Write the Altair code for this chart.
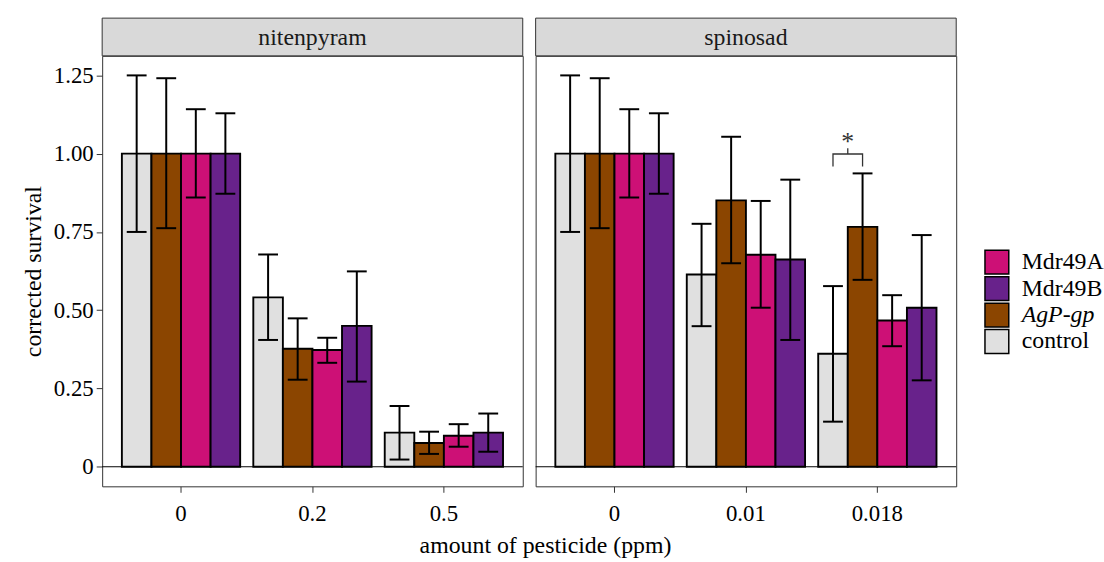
import altair as alt
import pandas as pd

FONT = "Liberation Serif"

panels = ["nitenpyram", "spinosad"]
nit_doses = ["0", "0.2", "0.5"]
spi_doses = ["0", "0.01", "0.018"]
groups = ["control", "AgP-gp", "Mdr49A", "Mdr49B"]
legend_order = ["Mdr49A", "Mdr49B", "AgP-gp", "control"]
colors = ["#e0e0e0", "#8b4500", "#cd1076", "#68228b"]

# values ordered dose by dose, groups in `groups` order
nit_mean = [1.0, 1.0, 1.0, 1.0, 0.541, 0.377, 0.373, 0.450, 0.109, 0.076, 0.099, 0.109]
nit_lo = [0.750, 0.762, 0.860, 0.872, 0.405, 0.278, 0.332, 0.272, 0.023, 0.041, 0.064, 0.048]
nit_hi = [1.250, 1.241, 1.142, 1.129, 0.678, 0.474, 0.412, 0.624, 0.194, 0.112, 0.136, 0.170]

spi_mean = [1.0, 1.0, 1.0, 1.0, 0.614, 0.851, 0.677, 0.662, 0.361, 0.766, 0.467, 0.508]
spi_lo = [0.750, 0.762, 0.860, 0.872, 0.449, 0.650, 0.508, 0.405, 0.144, 0.597, 0.385, 0.276]
spi_hi = [1.250, 1.241, 1.142, 1.129, 0.776, 1.054, 0.849, 0.917, 0.577, 0.937, 0.548, 0.740]

y_ticks = [0, 0.25, 0.5, 0.75, 1.0, 1.25]

# significance bracket (spinosad, 0.018)
sig_dose = "0.018"
sig_pair = ["control", "AgP-gp"]
sig_top = 0.999
sig_tip = 0.959
sig_mid_top = 1.017
sig_label = "*"


def long(doses, mean, lo, hi):
    rows = []
    for i, d in enumerate(doses):
        for j, g in enumerate(groups):
            k = i * len(groups) + j
            rows.append(dict(dose=d, group=g, mean=mean[k], lo=lo[k], hi=hi[k]))
    return pd.DataFrame(rows)


color_scale = alt.Scale(domain=groups, range=colors)
y_scale = alt.Scale(domain=[-0.0625, 1.3125], nice=False, zero=False)
W, H = 424, 434
TICK_FS = 23
TITLE_FS = 24


def panel(title, doses, mean, lo, hi, show_y, sig=False):
    df = long(doses, mean, lo, hi)
    xscale = alt.Scale(domain=doses, paddingInner=0.1, paddingOuter=0.15)
    xaxis = alt.Axis(title=None, labelAngle=0, labelFont=FONT, labelFontSize=TICK_FS,
                     labelColor="black", tickColor="#333333", tickSize=6,
                     labelPadding=10, domain=False, grid=False)
    x = alt.X("dose:N", sort=doses, scale=xscale, axis=xaxis)
    xo = alt.XOffset("group:N", sort=groups,
                     scale=alt.Scale(domain=groups, paddingInner=0, paddingOuter=0))
    if show_y:
        yaxis = alt.Axis(title="corrected survival", values=y_ticks,
                         labelExpr="datum.value == 0 ? '0' : format(datum.value, '.2f')",
                         labelFont=FONT, labelFontSize=TICK_FS, labelColor="black",
                         titleFont=FONT, titleFontSize=TITLE_FS, titleFontWeight="normal",
                         titleColor="black", titlePadding=8,
                         tickColor="#333333", tickSize=6, labelPadding=3,
                         domain=False, grid=False)
    else:
        yaxis = None

    base = alt.Chart(df)
    zero = alt.Chart(pd.DataFrame({"z": [0.0]})).mark_rule(color="black", strokeWidth=1).encode(
        y=alt.Y("z:Q", scale=y_scale, axis=yaxis))
    bars = base.mark_bar(stroke="black", strokeWidth=1.9, opacity=1).encode(
        x=x, xOffset=xo,
        y=alt.Y("mean:Q", scale=y_scale, axis=yaxis),
        y2=alt.datum(0),
        fill=alt.Fill("group:N", scale=color_scale, legend=None),
    )
    err = base.mark_rule(color="black", strokeWidth=2).encode(
        x=x, xOffset=xo, y=alt.Y("lo:Q", scale=y_scale, axis=yaxis), y2="hi:Q")
    cap_lo = base.mark_tick(color="black", size=20, thickness=2, opacity=1).encode(
        x=x, xOffset=xo, y=alt.Y("lo:Q", scale=y_scale, axis=yaxis))
    cap_hi = base.mark_tick(color="black", size=20, thickness=2, opacity=1).encode(
        x=x, xOffset=xo, y=alt.Y("hi:Q", scale=y_scale, axis=yaxis))

    sdf = pd.DataFrame({"panel": [title]})
    strip = alt.Chart(sdf).mark_rect(fill="#d9d9d9", stroke="#333333", strokeWidth=1).encode(
        x=alt.value(0), x2=alt.value(W), y=alt.value(-38), y2=alt.value(0))
    strip_text = alt.Chart(sdf).mark_text(font=FONT, fontSize=TITLE_FS, color="#1a1a1a",
                                          baseline="middle", align="center").encode(
        x=alt.value(W / 2), y=alt.value(-18), text="panel:N")

    layers = [zero, bars, err, cap_lo, cap_hi]
    if sig:
        bdf = pd.DataFrame({
            "dose": [sig_dose] * 4,
            "group": [sig_pair[0], sig_pair[0], sig_pair[1], sig_pair[1]],
            "v": [sig_tip, sig_top, sig_top, sig_tip],
            "k": [0, 1, 2, 3],
        })
        bracket = alt.Chart(bdf).mark_line(color="#333333", strokeWidth=1.3).encode(
            x=x, xOffset=xo, y=alt.Y("v:Q", scale=y_scale, axis=yaxis), order="k:Q")
        mdf = pd.DataFrame({"dose": [sig_dose], "a": [sig_top], "b": [sig_mid_top],
                            "t": [sig_label]})
        # midpoint between the 1st and 2nd bar of the group = 1/4 of the dose band
        x_mid = alt.X("dose:N", sort=doses, scale=xscale, axis=xaxis, bandPosition=0.25)
        mid = alt.Chart(mdf).mark_rule(color="#333333", strokeWidth=1.3).encode(
            x=x_mid, y=alt.Y("a:Q", scale=y_scale, axis=yaxis), y2="b:Q")
        star = alt.Chart(mdf).mark_text(font=FONT, fontSize=26, color="#333333",
                                        baseline="alphabetic", dy=2).encode(
            x=x_mid, y=alt.Y("b:Q", scale=y_scale, axis=yaxis), text="t:N")
        layers += [bracket, mid, star]
    layers += [strip, strip_text]
    return alt.layer(*layers).properties(width=W, height=H)


p1 = panel(panels[0], nit_doses, nit_mean, nit_lo, nit_hi, True)
p2 = panel(panels[1], spi_doses, spi_mean, spi_lo, spi_hi, False, sig=True)

legend_labels = legend_order
ldf = pd.DataFrame({"group": legend_order, "label": legend_labels})
ly = alt.Y("group:N", sort=legend_order,
           scale=alt.Scale(domain=legend_order, range=[208, 288], padding=0), axis=None)
squares = alt.Chart(ldf).mark_square(size=576, stroke="black", strokeWidth=1.5, opacity=1).encode(
    x=alt.value(29), y=ly, fill=alt.Fill("group:N", scale=color_scale, legend=None))
ltext = alt.Chart(ldf).transform_filter("datum.group != 'AgP-gp'").mark_text(
    font=FONT, fontSize=TITLE_FS, color="black", align="left", baseline="middle").encode(
    x=alt.value(54), y=ly, text="label:N")
ltext_it = alt.Chart(ldf).transform_filter("datum.group == 'AgP-gp'").mark_text(
    font=FONT, fontSize=TITLE_FS, color="black", align="left", baseline="middle",
    fontStyle="italic").encode(
    x=alt.value(54), y=ly, text="label:N")
legend = alt.layer(squares, ltext, ltext_it).properties(
    width=115, height=H, view=alt.ViewBackground(stroke=None))

chart = alt.hconcat(p1, p2, legend, spacing=11).properties(
    title=alt.TitleParams("amount of pesticide (ppm)", orient="bottom", font=FONT,
                          fontSize=TITLE_FS, fontWeight="normal", color="black",
                          anchor="middle", dx=-17, offset=9),
    padding={"left": 21, "top": 15, "right": 0, "bottom": 0},
    background="white",
).configure_view(stroke="#333333", strokeWidth=1)

chart.save("out.html", embed_options={"renderer": "svg", "actions": False})
